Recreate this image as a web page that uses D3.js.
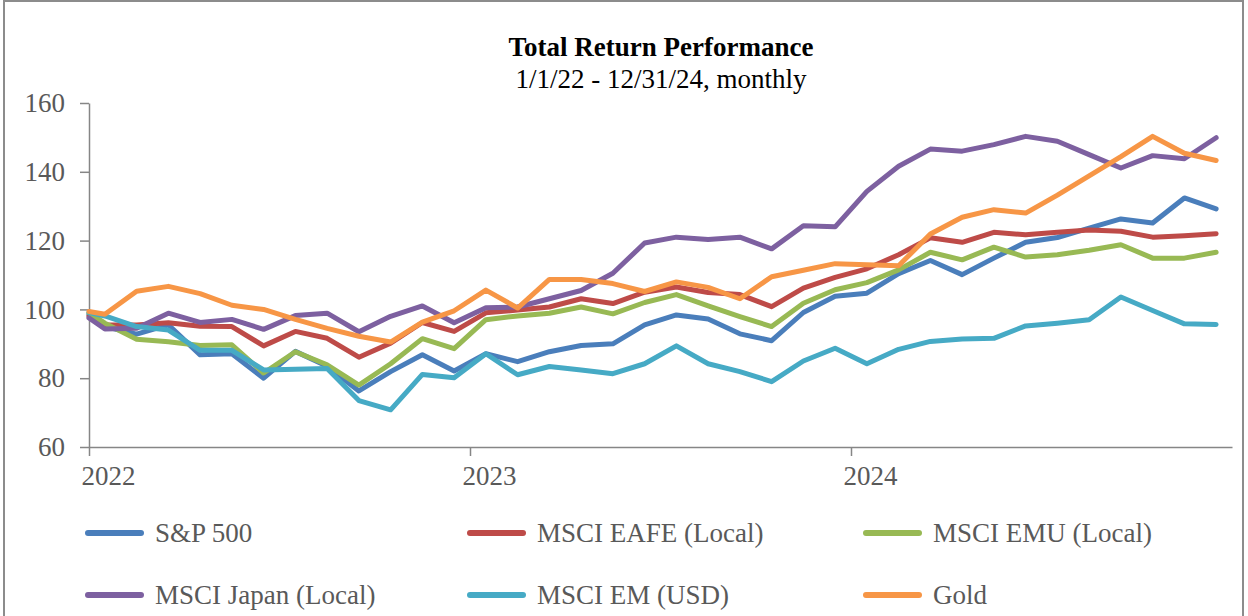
<!DOCTYPE html>
<html>
<head>
<meta charset="utf-8">
<script src="https://cdn.jsdelivr.net/npm/d3@7"></script>
<style>
  html, body { margin: 0; padding: 0; background: #fff; }
  svg { display: block; font-family: "Liberation Serif", "Times New Roman", serif; }
</style>
</head>
<body>
<svg id="chart" width="1248" height="616"></svg>
<script>
// month-end periods, first one is the starting point
const periods = [
  "2021-12",
  "2022-01","2022-02","2022-03","2022-04","2022-05","2022-06","2022-07","2022-08","2022-09","2022-10","2022-11","2022-12",
  "2023-01","2023-02","2023-03","2023-04","2023-05","2023-06","2023-07","2023-08","2023-09","2023-10","2023-11","2023-12",
  "2024-01","2024-02","2024-03","2024-04","2024-05","2024-06","2024-07","2024-08","2024-09","2024-10","2024-11","2024-12"
];

const sp500 = [98.5, 95.0, 92.8, 95.5, 86.8, 87.1, 80.0, 87.8, 83.5, 76.3, 81.9, 86.8, 82.1,
  87.1, 84.8, 87.7, 89.5, 90.0, 95.5, 98.4, 97.2, 92.9, 90.9, 99.1, 103.8,
  104.7, 110.4, 114.2, 110.1, 114.9, 119.5, 120.9, 123.6, 126.3, 125.1, 132.4, 129.2];
const eafe = [98.0, 95.5, 95.5, 96.1, 95.1, 95.0, 89.4, 93.6, 91.6, 86.1, 90.2, 96.2, 93.6,
  99.0, 99.8, 100.7, 103.1, 101.7, 105.0, 106.5, 104.9, 104.3, 100.8, 106.2, 109.3,
  111.8, 115.9, 120.8, 119.5, 122.4, 121.7, 122.4, 123.1, 122.7, 121.0, 121.4, 122.0];
const emu = [99.0, 96.0, 91.3, 90.6, 89.5, 89.7, 81.5, 87.7, 83.9, 78.0, 84.2, 91.5, 88.6,
  97.0, 98.1, 98.9, 100.7, 98.7, 102.0, 104.3, 101.0, 97.9, 95.0, 101.8, 105.7,
  107.8, 111.5, 116.6, 114.4, 118.1, 115.2, 115.9, 117.2, 118.8, 114.9, 114.9, 116.6];
const japan = [97.5, 94.3, 94.5, 98.9, 96.2, 97.1, 94.2, 98.2, 98.9, 93.5, 98.0, 101.0, 96.1,
  100.5, 100.7, 103.1, 105.5, 110.5, 119.3, 121.0, 120.3, 121.0, 117.6, 124.3, 124.0,
  134.3, 141.6, 146.6, 146.0, 147.9, 150.3, 148.9, 145.0, 141.1, 144.7, 143.8, 149.9];
const em = [99.1, 98.1, 95.0, 94.0, 88.1, 88.1, 82.4, 82.6, 82.8, 73.5, 70.8, 81.1, 80.1,
  87.1, 81.0, 83.4, 82.4, 81.3, 84.2, 89.4, 84.2, 81.9, 79.0, 85.0, 88.7,
  84.2, 88.4, 90.7, 91.4, 91.6, 95.2, 96.0, 97.0, 103.6, 99.7, 95.8, 95.6];
const gold = [99.4, 98.6, 105.3, 106.7, 104.6, 101.2, 100.0, 97.1, 94.5, 92.2, 90.5, 96.3, 99.6,
  105.6, 100.4, 108.7, 108.7, 107.5, 105.2, 108.0, 106.4, 103.1, 109.5, 111.4, 113.3,
  113.0, 112.7, 121.9, 126.8, 129.0, 128.0, 133.2, 138.8, 144.4, 150.3, 145.4, 143.3];

const seriesNames = ["S&P 500", "MSCI EAFE (Local)", "MSCI EMU (Local)", "MSCI Japan (Local)", "MSCI EM (USD)", "Gold"];
const seriesValues = [sp500, eafe, emu, japan, em, gold];
const seriesColors = ["#4a7ebb", "#be4b48", "#98b954", "#7d60a0", "#46aac5", "#f79646"];

const yTicks = [60, 80, 100, 120, 140, 160];
const yearTicks = [2022, 2023, 2024];

const svg = d3.select("#chart");
const W = 1248, H = 616;
const fs = 27;

svg.append("rect").attr("width", W).attr("height", H).attr("fill", "#fff");
// chart frame
svg.append("rect")
  .attr("x", 4).attr("y", 1).attr("width", 1239).attr("height", 640)
  .attr("fill", "none").attr("stroke", "#8c8c8c").attr("stroke-width", 2);

// months since Jan 2022, points sit mid-month; starting point sits on the axis start
function monthPos(p) {
  const [yy, mm] = p.split("-").map(Number);
  return Math.max(0, (yy - 2022) * 12 + (mm - 1) + 0.5);
}

const x = d3.scaleLinear().domain([0, 36]).range([89, 1232]);
const y = d3.scaleLinear().domain([60, 160]).range([447, 103]);

svg.append("text")
  .attr("x", 661).attr("y", 56)
  .attr("text-anchor", "middle")
  .attr("font-size", fs).attr("font-weight", "bold").attr("fill", "#000")
  .text("Total Return Performance");
svg.append("text")
  .attr("x", 661).attr("y", 88)
  .attr("text-anchor", "middle")
  .attr("font-size", fs).attr("fill", "#000")
  .text("1/1/22 - 12/31/24, monthly");

const axisColor = "#868686";
const labelColor = "#595959";

const yAxis = svg.append("g")
  .attr("transform", `translate(${x(0)},0)`)
  .call(d3.axisLeft(y).tickValues(yTicks).tickSize(9).tickSizeOuter(0).tickPadding(15));
yAxis.select(".domain").attr("stroke", axisColor).attr("stroke-width", 1.5);
yAxis.selectAll(".tick line").attr("stroke", axisColor).attr("stroke-width", 1.5);
yAxis.selectAll(".tick text")
  .attr("font-family", "Liberation Serif").attr("font-size", fs).attr("fill", labelColor);

const xAxis = svg.append("g")
  .attr("transform", `translate(0,${y(60)})`)
  .call(d3.axisBottom(x)
    .tickValues(yearTicks.map(yr => (yr - 2022) * 12))
    .tickFormat(v => String(2022 + v / 12))
    .tickSize(9).tickSizeOuter(0));
xAxis.select(".domain").attr("stroke", axisColor).attr("stroke-width", 1.5);
xAxis.selectAll(".tick line").attr("stroke", axisColor).attr("stroke-width", 1.5);
xAxis.selectAll(".tick text")
  .attr("font-family", "Liberation Serif").attr("font-size", fs).attr("fill", labelColor)
  .attr("dy", null).attr("y", 38).attr("x", 19);

const line = d3.line()
  .x((d, i) => x(monthPos(periods[i])))
  .y(d => y(d));

svg.append("g").selectAll("path")
  .data(seriesValues)
  .join("path")
  .attr("d", d => line(d))
  .attr("fill", "none")
  .attr("stroke", (d, i) => seriesColors[i])
  .attr("stroke-width", 5)
  .attr("stroke-linejoin", "round")
  .attr("stroke-linecap", "round");

// legend, 3 columns x 2 rows
const legCols = [88, 470, 866];
const legRows = [533, 595];
const legend = svg.append("g").selectAll("g")
  .data(seriesNames)
  .join("g")
  .attr("transform", (d, i) => `translate(${legCols[i % 3]},${legRows[Math.floor(i / 3)]})`);
legend.append("line")
  .attr("x1", 0).attr("x2", 53).attr("y1", 0).attr("y2", 0)
  .attr("stroke", (d, i) => seriesColors[i])
  .attr("stroke-width", 6).attr("stroke-linecap", "round");
legend.append("text")
  .attr("x", 67).attr("y", 9)
  .attr("font-size", fs).attr("fill", labelColor)
  .text(d => d);
</script>
</body>
</html>
